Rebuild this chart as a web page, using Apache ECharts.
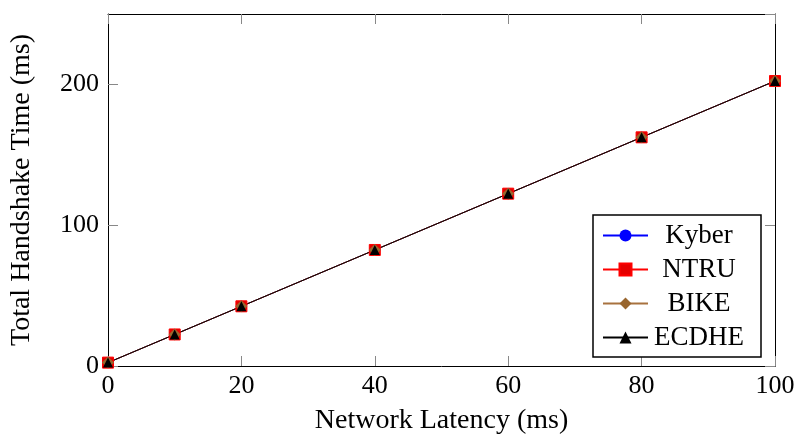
<!DOCTYPE html>
<html>
<head>
<meta charset="utf-8">
<script src="https://cdn.jsdelivr.net/npm/echarts@6/dist/echarts.min.js"></script>
<style>
html,body{margin:0;padding:0;background:#fff;}
#chart{width:795px;height:437px;}
</style>
</head>
<body>
<div id="chart"></div>
<script>
const latency = [0, 10, 20, 40, 60, 80, 100];
const kyber = [2.4, 22.4, 42.4, 82.4, 122.4, 162.4, 202.4];
const ntru  = [2.4, 22.4, 42.4, 82.4, 122.4, 162.4, 202.4];
const bike  = [2.4, 22.4, 42.4, 82.4, 122.4, 162.4, 202.4];
const ecdhe = [2.4, 22.4, 42.4, 82.4, 122.4, 162.4, 202.4];
const seriesNames = ['Kyber', 'NTRU', 'BIKE', 'ECDHE'];
const xTitle = 'Network Latency (ms)';
const yTitle = 'Total Handshake Time (ms)';

const FONT = 'Liberation Serif';
const pair = arr => latency.map((x, i) => [x, arr[i]]);

const chart = echarts.init(document.getElementById('chart'), null, {renderer: 'canvas'});

const tickStyle = {show: true, inside: true, length: 10, lineStyle: {color: '#888', width: 1}};
const lineAxis = {show: true, onZero: false, lineStyle: {color: '#000', width: 1}};

chart.setOption({
  animation: false,
  backgroundColor: '#fff',
  grid: {left: 108, right: 20, top: 14, bottom: 71, containLabel: false, outerBoundsMode: 'none'},
  xAxis: [
    {
      type: 'value', min: 0, max: 100, interval: 20, position: 'bottom',
      axisLine: lineAxis, axisTick: tickStyle, splitLine: {show: false},
      axisLabel: {fontFamily: FONT, fontSize: 26, color: '#000', margin: 7},
      name: xTitle, nameLocation: 'middle', nameGap: 41,
      nameTextStyle: {fontFamily: FONT, fontSize: 28, color: '#000'}
    },
    {
      type: 'value', min: 0, max: 100, interval: 20, position: 'top',
      axisLine: lineAxis, axisTick: tickStyle, splitLine: {show: false},
      axisLabel: {show: false}
    }
  ],
  yAxis: [
    {
      type: 'value', min: 0, max: 250, interval: 100, position: 'left',
      axisLine: lineAxis, axisTick: tickStyle, splitLine: {show: false},
      axisLabel: {fontFamily: FONT, fontSize: 26, color: '#000', margin: 9, showMaxLabel: false},
      name: yTitle, nameLocation: 'middle', nameGap: 72,
      nameTextStyle: {fontFamily: FONT, fontSize: 28, color: '#000'}
    },
    {
      type: 'value', min: 0, max: 250, interval: 100, position: 'right',
      axisLine: lineAxis, axisTick: tickStyle, splitLine: {show: false},
      axisLabel: {show: false}
    }
  ],
  legend: {
    orient: 'vertical',
    left: 593, top: 215,
    padding: [7, 16, 6, 9],
    backgroundColor: '#fff',
    borderColor: '#000', borderWidth: 1.5,
    itemWidth: 45, itemHeight: 15, itemGap: 7,
    data: seriesNames,
    formatter: '{a|{name}}',
    textStyle: {
      fontFamily: FONT, fontSize: 27, color: '#000',
      rich: {a: {fontFamily: FONT, fontSize: 27, width: 92, align: 'center', lineHeight: 27}}
    }
  },
  series: [
    {name: seriesNames[0], type: 'line', data: pair(kyber), symbol: 'circle', symbolSize: 11,
     itemStyle: {color: '#0000ff'}, lineStyle: {color: '#0000ff', width: 1}},
    {name: seriesNames[1], type: 'line', data: pair(ntru), symbol: 'rect', symbolSize: 11,
     itemStyle: {color: '#e60000', borderColor: '#ff0000', borderWidth: 1}, lineStyle: {color: '#ff0000', width: 1}},
    {name: seriesNames[2], type: 'line', data: pair(bike), symbol: 'diamond', symbolSize: 12,
     itemStyle: {color: '#99662e'}, lineStyle: {color: '#a8723f', width: 1}},
    {name: seriesNames[3], type: 'line', data: pair(ecdhe), symbol: 'triangle', symbolSize: 10,
     itemStyle: {color: '#000'}, lineStyle: {color: '#000', width: 1}}
  ]
});
</script>
</body>
</html>
